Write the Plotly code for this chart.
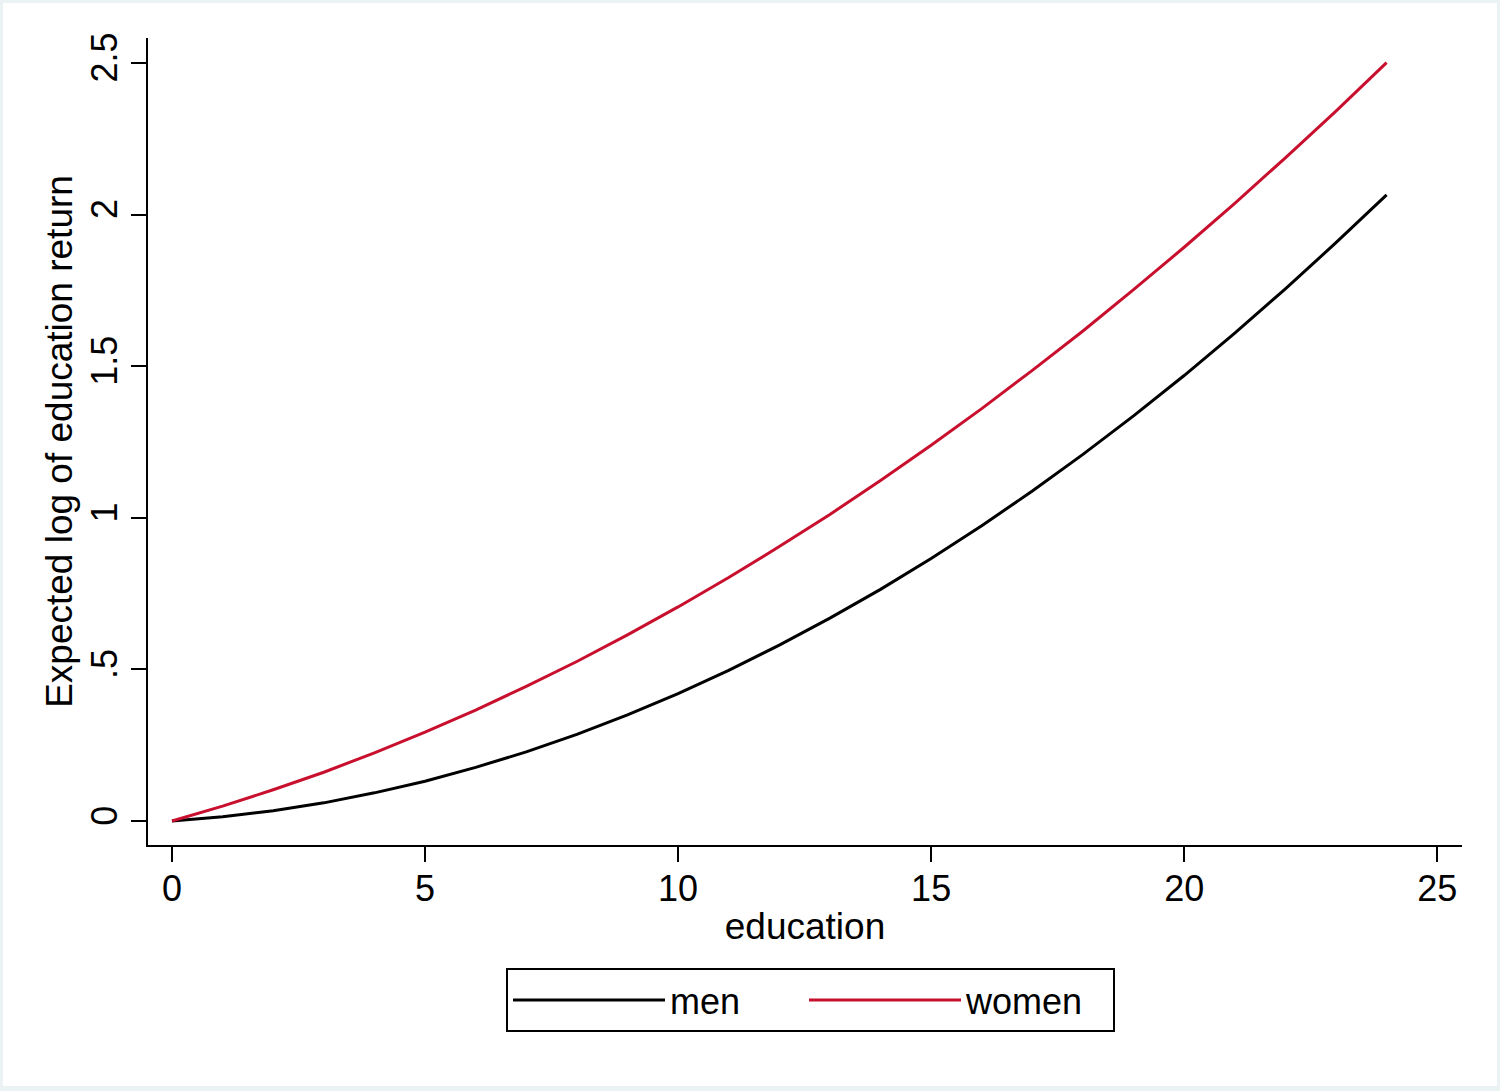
import plotly.graph_objects as go

# Data
education = list(range(0, 25))
men = [0.000, 0.014, 0.034, 0.060, 0.093, 0.131, 0.177, 0.228, 0.286, 0.350,
       0.420, 0.497, 0.580, 0.669, 0.764, 0.866, 0.974, 1.088, 1.209, 1.336,
       1.469, 1.609, 1.755, 1.907, 2.065]
women = [0.000, 0.049, 0.103, 0.161, 0.225, 0.293, 0.366, 0.444, 0.526, 0.614,
         0.706, 0.803, 0.905, 1.011, 1.123, 1.239, 1.360, 1.486, 1.616, 1.752,
         1.892, 2.037, 2.187, 2.341, 2.501]
x_ticks = [0, 5, 10, 15, 20, 25]
x_tick_labels = ["0", "5", "10", "15", "20", "25"]
y_ticks = [0, 0.5, 1, 1.5, 2, 2.5]
y_tick_labels = ["0", ".5", "1", "1.5", "2", "2.5"]

FONT = "Liberation Sans, Arial, sans-serif"
W, H = 1500, 1091
L, R, T, B = 148, 38, 38, 246
pw, ph = W - L - R, H - T - B

def px_to_paper_x(px):
    return (px - L) / pw

def px_to_paper_y(py):
    return (H - B - py) / ph

fig = go.Figure()
fig.add_trace(go.Scatter(x=education, y=men, mode="lines", name="men",
                         legendwidth=129,
                         line=dict(color="#000000", width=3)))
fig.add_trace(go.Scatter(x=education, y=women, mode="lines", name="women",
                         legendwidth=142,
                         line=dict(color="#C8102E", width=3)))

# white inner panel over a light outer frame
fig.add_shape(type="rect", xref="paper", yref="paper", layer="below",
              x0=px_to_paper_x(3), x1=px_to_paper_x(1497),
              y0=px_to_paper_y(1086), y1=px_to_paper_y(3),
              fillcolor="white", line=dict(width=0))

fig.update_layout(
    width=W, height=H,
    margin=dict(l=L, r=R, t=T, b=B, pad=0),
    paper_bgcolor="#EAF2F3",
    plot_bgcolor="white",
    font=dict(family=FONT, size=36, color="black"),
    showlegend=True,
    legend=dict(
        orientation="h",
        x=px_to_paper_x(506), xanchor="left",
        y=px_to_paper_y(968), yanchor="top",
        bordercolor="black", borderwidth=2,
        bgcolor="white",
        font=dict(family=FONT, size=36, color="black"),
        itemwidth=152,
        entrywidthmode="pixels",
        traceorder="normal",
    ),
    xaxis=dict(
        range=[-0.474, 25.49],
        tickmode="array", tickvals=x_ticks, ticktext=x_tick_labels,
        ticks="outside", ticklen=15, tickwidth=2, tickcolor="black",
        ticklabelstandoff=-4,
        showline=True, linecolor="black", linewidth=2,
        showgrid=False, zeroline=False,
        tickfont=dict(family=FONT, size=36),
        title=dict(text="education", font=dict(family=FONT, size=37), standoff=5),
    ),
    yaxis=dict(
        range=[-0.079, 2.582],
        tickmode="array", tickvals=y_ticks, ticktext=y_tick_labels,
        tickangle=-90,
        ticks="outside", ticklen=15, tickwidth=2, tickcolor="black",
        showline=True, linecolor="black", linewidth=2,
        showgrid=False, zeroline=False,
        tickfont=dict(family=FONT, size=36),
        title=dict(text="Expected log of education return",
                   font=dict(family=FONT, size=37), standoff=0),
    ),
)

fig.write_html("out.html",
               config={"displayModeBar": False},
               post_script="document.body.style.margin='0';document.body.style.padding='0';")
